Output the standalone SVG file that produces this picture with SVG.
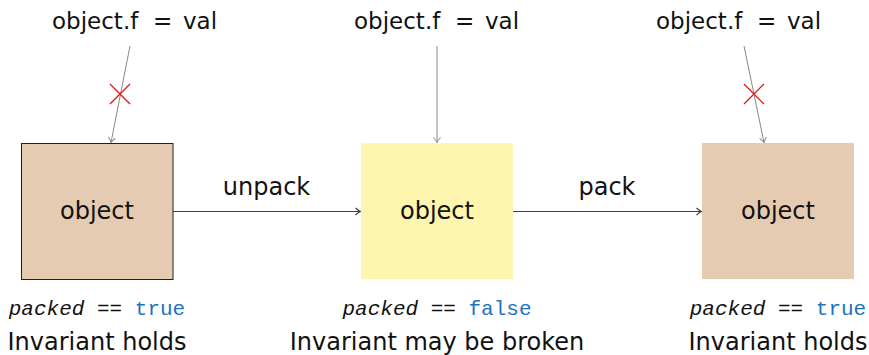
<svg xmlns="http://www.w3.org/2000/svg" width="869" height="355" viewBox="0 0 869 355">
<style>
.t{font-family:"DejaVu Sans",sans-serif;fill:#111}
.big{font-size:24px}
.top{font-size:23px}
.tt{font-family:"Liberation Mono","DejaVu Sans Mono",monospace;font-size:21px;fill:#111}
.kw{fill:#1a74c0}
.vc{stroke:#888;stroke-width:1;fill:none}
.hc{stroke:#404040;stroke-width:1.2;fill:none}
.x{stroke:#d81818;stroke-width:1.2}
</style>
<defs>
<marker id="ag" markerWidth="10" markerHeight="10" refX="8" refY="5" orient="auto" markerUnits="userSpaceOnUse">
<path d="M3,1.5 Q6,4.2 8,5 Q6,5.8 3,8.5" fill="none" stroke="#888" stroke-width="1"/>
</marker>
<marker id="ad" markerWidth="10" markerHeight="10" refX="8" refY="5" orient="auto" markerUnits="userSpaceOnUse">
<path d="M3,1.5 Q6,4.2 8,5 Q6,5.8 3,8.5" fill="none" stroke="#404040" stroke-width="1.1"/>
</marker>
</defs>

<g id="connectors">
<line class="vc" x1="130" y1="46" x2="111" y2="142.5" marker-end="url(#ag)"/>
<line class="x" x1="110" y1="84" x2="130" y2="104"/>
<line class="x" x1="130" y1="84" x2="110" y2="104"/>
<line class="vc" x1="437" y1="46" x2="437" y2="142.5" marker-end="url(#ag)"/>
<line class="vc" x1="744" y1="46" x2="764" y2="142.5" marker-end="url(#ag)"/>
<line class="x" x1="744" y1="84" x2="764" y2="104"/>
<line class="x" x1="764" y1="84" x2="744" y2="104"/>
<line class="hc" x1="173" y1="211.5" x2="360.5" y2="211.5" marker-end="url(#ad)"/>
<text class="t big" x="266.5" y="195" text-anchor="middle">unpack</text>
<line class="hc" x1="513" y1="211.5" x2="701.5" y2="211.5" marker-end="url(#ad)"/>
<text class="t big" x="607" y="195" text-anchor="middle">pack</text>
</g>

<g id="label-top-left">
<text class="t top" y="29"><tspan x="52">object.f</tspan><tspan x="153">=</tspan><tspan x="183">val</tspan></text>
</g>
<g id="label-top-mid">
<text class="t top" y="29"><tspan x="354">object.f</tspan><tspan x="455">=</tspan><tspan x="485">val</tspan></text>
</g>
<g id="label-top-right">
<text class="t top" y="29"><tspan x="656">object.f</tspan><tspan x="757">=</tspan><tspan x="787">val</tspan></text>
</g>

<g id="node-left">
<rect x="21.5" y="143.5" width="151.5" height="136" fill="#e5cbb2" stroke="#222" stroke-width="1"/>
<text class="t big" x="97" y="219" text-anchor="middle">object</text>
<text class="tt" x="97" y="315" text-anchor="middle"><tspan font-style="italic">packed</tspan> == <tspan class="kw">true</tspan></text>
<text class="t big" x="97" y="350" text-anchor="middle">Invariant holds</text>
</g>

<g id="node-mid">
<rect x="361" y="143" width="152" height="136" fill="#fef5ae"/>
<text class="t big" x="437" y="219" text-anchor="middle">object</text>
<text class="tt" x="437" y="315" text-anchor="middle"><tspan font-style="italic">packed</tspan> == <tspan class="kw">false</tspan></text>
<text class="t big" x="437" y="350" text-anchor="middle">Invariant may be broken</text>
</g>

<g id="node-right">
<rect x="702" y="143" width="152" height="136" fill="#e5cbb2"/>
<text class="t big" x="778" y="219" text-anchor="middle">object</text>
<text class="tt" x="778" y="315" text-anchor="middle"><tspan font-style="italic">packed</tspan> == <tspan class="kw">true</tspan></text>
<text class="t big" x="778" y="350" text-anchor="middle">Invariant holds</text>
</g>
</svg>
